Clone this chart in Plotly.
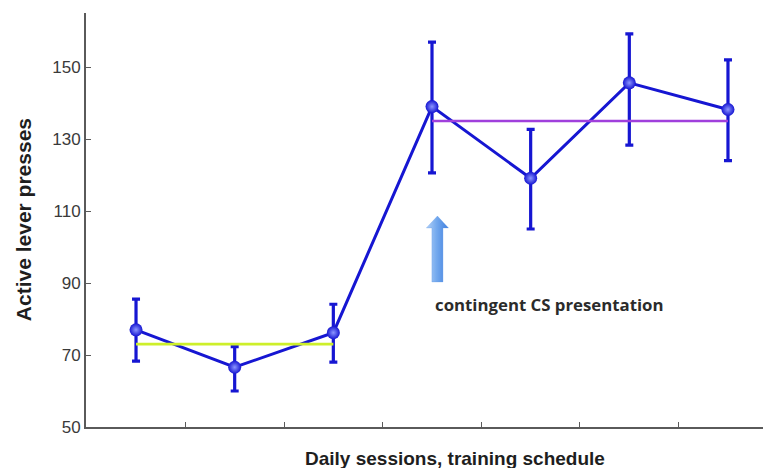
import plotly.graph_objects as go

# ---- data ----
sessions = [1, 2, 3, 4, 5, 6, 7]
mean_presses = [77.0, 66.6, 76.2, 139.0, 119.1, 145.6, 138.2]
upper_err = [85.5, 72.3, 84.1, 156.9, 132.7, 159.2, 152.0]
lower_err = [68.3, 60.0, 68.0, 120.6, 105.0, 128.3, 124.0]

phase1_sessions = [1, 3]
phase1_mean = 73.0
phase2_sessions = [4, 7]
phase2_mean = 135.0

y_ticks = [50, 70, 90, 110, 130, 150]
x_ticks = [1.5, 2.5, 3.5, 4.5, 5.5, 6.5]

annotation_text = "contingent CS presentation"
arrow_x = 4.055
arrow_tip = 108.6
arrow_base = 90.3

# ---- styles ----
BLUE = "#1616d2"
YELLOW = "#cdef2a"
PURPLE = "#a040dc"
AXIS = "#5a5a5a"

plus = [u - m for u, m in zip(upper_err, mean_presses)]
minus = [m - l for m, l in zip(mean_presses, lower_err)]

fig = go.Figure()

fig.add_trace(go.Scatter(
    x=sessions, y=mean_presses, mode="lines+markers",
    line=dict(color=BLUE, width=3),
    marker=dict(size=13, color=BLUE,
                gradient=dict(type="radial", color="#8c96ff")),
    error_y=dict(type="data", symmetric=False, array=plus, arrayminus=minus,
                 color=BLUE, thickness=3.2, width=4),
    showlegend=False, hoverinfo="skip",
))

fig.add_trace(go.Scatter(
    x=phase1_sessions, y=[phase1_mean] * 2, mode="lines",
    line=dict(color=YELLOW, width=2.8), showlegend=False, hoverinfo="skip",
))
fig.add_trace(go.Scatter(
    x=phase2_sessions, y=[phase2_mean] * 2, mode="lines",
    line=dict(color=PURPLE, width=2.5), showlegend=False, hoverinfo="skip",
))

# gradient arrow (annotation glyph)
shaft_hw = 0.056
head_hw = 0.112
head_h = 3.3
ax = [arrow_x - shaft_hw, arrow_x - shaft_hw, arrow_x - head_hw, arrow_x,
      arrow_x + head_hw, arrow_x + shaft_hw, arrow_x + shaft_hw, arrow_x - shaft_hw]
ay = [arrow_base, arrow_tip - head_h, arrow_tip - head_h, arrow_tip,
      arrow_tip - head_h, arrow_tip - head_h, arrow_base, arrow_base]
fig.add_trace(go.Scatter(
    x=ax, y=ay, mode="lines", fill="toself",
    line=dict(color="rgba(90,150,230,0.6)", width=0.5),
    fillgradient=dict(type="horizontal",
                      colorscale=[[0, "#b3d1f7"], [0.45, "#75aaee"], [1, "#3f7fdf"]]),
    showlegend=False, hoverinfo="skip",
))

fig.add_annotation(
    x=4.01, y=83.9, xref="x", yref="y", text=annotation_text, showarrow=False,
    xanchor="left", yanchor="middle",
    font=dict(family="Open Sans", size=16.8, color="#2b2b2b", weight="bold"),
)

fig.add_annotation(
    x=-0.092, y=0.502, xref="paper", yref="paper", text="<b>Active lever presses</b>",
    showarrow=False, textangle=-90, xanchor="center", yanchor="middle",
    font=dict(family="Liberation Sans", size=21, color="#1e1e1e"),
)
fig.add_annotation(
    x=0.5387, y=-0.075, xref="paper", yref="paper",
    text="<b>Daily sessions, training schedule</b>",
    showarrow=False, xanchor="center", yanchor="middle",
    font=dict(family="Liberation Sans", size=19, color="#1e1e1e"),
)

fig.update_xaxes(
    range=[0.493, 7.436], tickvals=x_ticks, ticktext=[""] * len(x_ticks),
    ticks="inside", ticklen=5, tickcolor=AXIS, tickwidth=1.3,
    showline=True, linecolor=AXIS, linewidth=1.8,
    showgrid=False, zeroline=False,
)
fig.update_yaxes(
    range=[50, 165], tickvals=y_ticks,
    ticks="inside", ticklen=5, tickcolor=AXIS, tickwidth=1.3,
    showline=True, linecolor=AXIS, linewidth=1.8,
    showgrid=False, zeroline=False,
    tickfont=dict(family="Liberation Sans", size=17, color="#3a3a3a"),
)

fig.update_layout(
    width=763, height=460,
    margin=dict(l=78, r=0, t=5, b=41),
    paper_bgcolor="white", plot_bgcolor="white",
)

fig.write_html("out.html")
